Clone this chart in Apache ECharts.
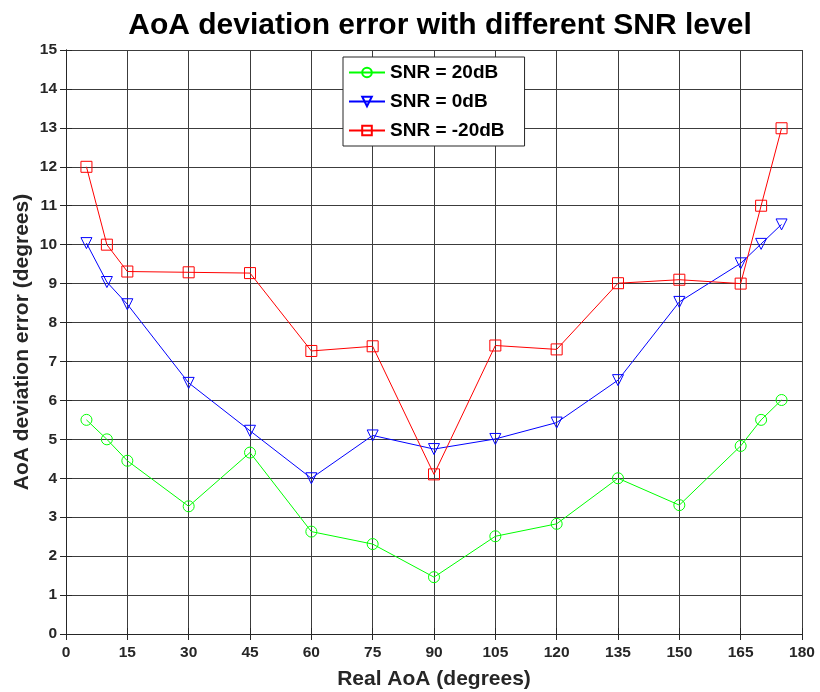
<!DOCTYPE html>
<html><head><meta charset="utf-8">
<script src="https://cdn.jsdelivr.net/npm/echarts@6/dist/echarts.min.js"></script>
<style>html,body{margin:0;padding:0;background:#fff}#c{width:820px;height:692px}</style>
</head><body><div id="c"></div>
<script>
const angles = [5, 10, 15, 30, 45, 60, 75, 90, 105, 120, 135, 150, 165, 170, 175];
const snr20 = [5.5, 5.0, 4.45, 3.28, 4.66, 2.63, 2.31, 1.46, 2.51, 2.83, 4.0, 3.31, 4.83, 5.5, 6.01];
const snr0 = [10.04, 9.04, 8.47, 6.45, 5.22, 4.0, 5.1, 4.75, 5.01, 5.43, 6.52, 8.53, 9.52, 10.02, 10.52];
const snrm20 = [12.0, 10.0, 9.31, 9.29, 9.27, 7.27, 7.39, 4.1, 7.41, 7.31, 9.01, 9.1, 9.0, 11.0, 12.99];
const seriesNames = ['SNR = 20dB', 'SNR = 0dB', 'SNR = -20dB'];

const font = 'Liberation Sans, Arial, sans-serif';
const chart = echarts.init(document.getElementById('c'));
function mk(name, vals, color, symbol, rot) {
  return {
    name, type: 'line', data: angles.map((a, i) => [a, vals[i]]),
    symbol, symbolSize: 11, symbolRotate: rot || 0,
    lineStyle: { color, width: 1 },
    itemStyle: { color: 'rgba(0,0,0,0)', borderColor: color, borderWidth: 1 },
    emphasis: { disabled: true }, animation: false, z: 5
  };
}
const axisLineStyle = { show: true, lineStyle: { color: '#262626', width: 1 } };
const gridLine = { show: true, lineStyle: { color: '#3c3c3c', width: 1 } };
const tick = { show: true, inside: true, length: 6, lineStyle: { color: '#262626' } };
chart.setOption({
  animation: false,
  title: {
    text: 'AoA deviation error with different SNR level', left: 435, top: 6, textAlign: 'center',
    textStyle: { fontFamily: font, fontSize: 30, fontWeight: 'bold', color: '#000' }
  },
  legend: {
    orient: 'vertical', left: 343, top: 57,
    backgroundColor: '#fff', borderColor: '#262626', borderWidth: 1,
    padding: [6, 20, 6, 5], itemGap: 10, itemWidth: 36, itemHeight: 12,
    textStyle: { fontFamily: font, fontSize: 19, fontWeight: 'bold', color: '#000' },
    data: seriesNames
  },
  grid: { left: 66, right: 18, top: 50, bottom: 58, containLabel: false, outerBoundsMode: 'none' },
  xAxis: [{
    type: 'value', min: 0, max: 180, interval: 15,
    name: 'Real AoA (degrees)', nameLocation: 'middle', nameGap: 35, nameMoveOverlap: false,
    nameTextStyle: { fontFamily: font, fontSize: 21, fontWeight: 'bold', color: '#262626' },
    axisLine: axisLineStyle, axisTick: tick,
    axisLabel: { fontFamily: font, fontSize: 15.5, fontWeight: 'bold', color: '#262626', margin: 11 },
    splitLine: gridLine
  }, {
    type: 'value', min: 0, max: 180, interval: 15, position: 'top',
    axisLine: axisLineStyle, axisTick: tick,
    axisLabel: { show: false }, splitLine: { show: false }
  }],
  yAxis: [{
    type: 'value', min: 0, max: 15, interval: 1,
    name: 'AoA deviation error (degrees)', nameLocation: 'middle', nameGap: 33, nameMoveOverlap: false,
    nameTextStyle: { fontFamily: font, fontSize: 21, fontWeight: 'bold', color: '#262626' },
    axisLine: axisLineStyle, axisTick: tick,
    axisLabel: { fontFamily: font, fontSize: 15.5, fontWeight: 'bold', color: '#262626', margin: 9 },
    splitLine: gridLine
  }, {
    type: 'value', min: 0, max: 15, interval: 1, position: 'right',
    axisLine: axisLineStyle, axisTick: tick,
    axisLabel: { show: false }, splitLine: { show: false }
  }],
  series: [
    mk(seriesNames[0], snr20, '#00ff00', 'circle'),
    mk(seriesNames[1], snr0, '#0000ff', 'triangle', 180),
    mk(seriesNames[2], snrm20, '#ff0000', 'rect')
  ]
});
</script></body></html>
